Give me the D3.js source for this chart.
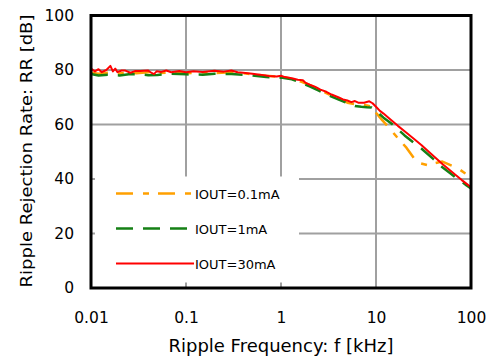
<!DOCTYPE html>
<html>
<head>
<meta charset="utf-8">
<script src="https://cdn.jsdelivr.net/npm/d3@7"></script>
<style>
  body { margin: 0; background: #fff; }
  svg { display: block; font-family: "DejaVu Sans", sans-serif; }
</style>
</head>
<body>
<div id="chart"></div>
<script>
// Datos (f en kHz, RR en dB)
const xTicks = [0.01, 0.1, 1, 10, 100];
const xTickLabels = ['0.01', '0.1', '1', '10', '100'];
const yTicks = [0, 20, 40, 60, 80, 100];

const freq01 = [0.01, 0.012, 0.015, 0.02, 0.025, 0.03, 0.04, 0.05, 0.07, 0.1, 0.15, 0.2, 0.3, 0.4, 0.5, 0.7, 1.0, 1.3, 1.6, 2.0, 2.5, 3.0, 4.0, 5.0, 6.0, 7.0, 8.0, 9.0, 10, 11.5, 13.4, 16.5, 21, 27, 35, 42, 50, 60, 73, 85, 100];
const rr01   = [79.0, 78.6, 79.0, 78.7, 79.1, 78.8, 79.2, 78.9, 79.0, 78.8, 79.1, 78.9, 79.2, 78.8, 78.4, 77.9, 77.5, 76.8, 75.8, 74.5, 73.0, 71.5, 69.5, 68.0, 67.5, 67.3, 67.0, 66.5, 64.3, 61.8, 59.2, 55.5, 51.4, 46.1, 45.1, 45.8, 46.4, 45.2, 43.9, 42.3, 40.2];

const freq1 = [0.01, 0.012, 0.015, 0.02, 0.025, 0.03, 0.04, 0.05, 0.07, 0.1, 0.15, 0.2, 0.3, 0.5, 0.7, 1.0, 1.3, 1.5, 2.0, 2.5, 3.0, 4.0, 5.0, 6.0, 7.0, 8.0, 9.0, 10, 12, 15, 20, 25, 30, 40, 50, 60, 70, 80, 90, 100];
const rr1   = [78.5, 78.0, 78.3, 78.0, 78.4, 78.5, 78.1, 78.2, 78.6, 78.4, 78.3, 78.6, 78.5, 78.0, 77.4, 77.2, 76.6, 75.8, 74.0, 72.4, 71.0, 69.2, 67.8, 66.8, 66.5, 66.3, 66.2, 65.0, 62.5, 60.0, 56.0, 53.3, 51.2, 47.4, 44.3, 42.2, 40.4, 39.0, 37.6, 36.5];

const freq30 = [0.01, 0.011, 0.012, 0.013, 0.0145, 0.016, 0.017, 0.018, 0.019, 0.021, 0.023, 0.026, 0.029, 0.033, 0.04, 0.043, 0.046, 0.049, 0.055, 0.062, 0.07, 0.085, 0.1, 0.12, 0.15, 0.2, 0.25, 0.3, 0.35, 0.4, 0.5, 0.6, 0.75, 0.9, 1.0, 1.1, 1.3, 1.5, 1.7, 1.8, 2.0, 2.3, 2.6, 3.0, 3.4, 4.0, 4.5, 5.0, 5.5, 6.0, 6.5, 7.5, 8.5, 9.2, 10, 11, 12, 14, 17, 20, 25, 30, 40, 50, 60, 70, 80, 90, 100];
const rr30   = [80.5, 79.5, 80.3, 79.2, 80.0, 81.5, 79.5, 80.5, 79.2, 79.8, 79.8, 79.0, 79.6, 79.6, 79.8, 79.0, 78.5, 79.5, 79.3, 79.8, 79.2, 79.6, 79.2, 79.5, 79.3, 79.7, 79.4, 79.8, 79.2, 79.0, 78.6, 78.3, 77.8, 77.6, 77.9, 77.4, 77.0, 76.4, 76.2, 75.4, 74.6, 73.8, 72.8, 72.0, 71.0, 70.0, 69.2, 68.8, 68.2, 68.6, 68.0, 68.0, 68.5, 67.8, 66.5, 65.0, 64.0, 62.0, 59.5, 57.5, 54.8, 52.5, 48.5, 45.5, 43.2, 41.3, 39.6, 38.2, 37.0];

const seriesNames = ['IOUT=0.1mA', 'IOUT=1mA', 'IOUT=30mA'];
const seriesFreq = [freq01, freq1, freq30];
const seriesRR = [rr01, rr1, rr30];

// Estilos
const COLORS = ['#FFA000', '#158015', '#FF0000'];
const DASHES = ['17,10,6,9', '17,10', null];
const WIDTHS = [2.5, 2.5, 2];

const W = 493, H = 363;
const margin = {top: 15.5, right: 22, bottom: 75, left: 91};
const width = W - margin.left - margin.right,
      height = H - margin.top - margin.bottom;

const svg = d3.select('#chart').append('svg')
    .attr('width', W)
    .attr('height', H);

const g = svg.append('g')
    .attr('transform', 'translate(' + margin.left + ',' + margin.top + ')');

const x = d3.scaleLog().domain([0.01, 100]).range([0, width]);
const y = d3.scaleLinear().domain([0, 100]).range([height, 0]);

// Rejilla
g.append('g').selectAll('line')
    .data(xTicks.slice(1, -1))
    .enter().append('line')
    .attr('x1', d => x(d)).attr('x2', d => x(d))
    .attr('y1', 0).attr('y2', height)
    .attr('stroke', '#a0a0a0').attr('stroke-width', 2);

g.append('g').selectAll('line')
    .data(yTicks.slice(1, -1))
    .enter().append('line')
    .attr('x1', 0).attr('x2', width)
    .attr('y1', d => y(d)).attr('y2', d => y(d))
    .attr('stroke', '#a0a0a0').attr('stroke-width', 2);

// Series
const line = d3.line()
    .x(d => x(d[0]))
    .y(d => y(d[1]));

seriesNames.forEach(function(name, i) {
    const pts = seriesFreq[i].map((f, j) => [f, seriesRR[i][j]]);
    g.append('path')
        .datum(pts)
        .attr('fill', 'none')
        .attr('stroke', COLORS[i])
        .attr('stroke-width', WIDTHS[i])
        .attr('stroke-dasharray', DASHES[i])
        .attr('stroke-linejoin', 'round')
        .attr('d', line);
});

// Leyenda (caja blanca sobre la rejilla)
const leg = g.append('g');
leg.append('rect')
    .attr('x', 4).attr('y', 161)
    .attr('width', 204).attr('height', 106)
    .attr('fill', '#fff');

seriesNames.forEach(function(name, i) {
    const ly = 178 + i * 35;
    leg.append('line')
        .attr('x1', 25).attr('x2', 103)
        .attr('y1', ly).attr('y2', ly)
        .attr('stroke', COLORS[i])
        .attr('stroke-width', WIDTHS[i])
        .attr('stroke-dasharray', DASHES[i]);
    leg.append('text')
        .attr('x', 104).attr('y', ly + 5)
        .attr('font-size', 13)
        .attr('fill', '#000')
        .text(name);
});

// Marco
g.append('rect')
    .attr('x', 0).attr('y', 0)
    .attr('width', width).attr('height', height)
    .attr('fill', 'none')
    .attr('stroke', '#000')
    .attr('stroke-width', 3);

// Ejes
const xAxis = g.append('g')
    .attr('transform', 'translate(0,' + height + ')')
    .call(d3.axisBottom(x).tickValues(xTicks).tickFormat((d, i) => xTickLabels[i]).tickSize(0).tickPadding(24));
xAxis.select('.domain').remove();
xAxis.selectAll('text').attr('font-size', 15.5).attr('fill', '#000').attr('font-family', '"DejaVu Sans", sans-serif');

const yAxis = g.append('g')
    .call(d3.axisLeft(y).tickValues(yTicks).tickSize(0).tickPadding(17));
yAxis.select('.domain').remove();
yAxis.selectAll('text').attr('font-size', 15.5).attr('fill', '#000').attr('font-family', '"DejaVu Sans", sans-serif');

// Títulos
svg.append('text')
    .attr('x', 281)
    .attr('y', 352)
    .attr('text-anchor', 'middle')
    .attr('font-size', 17)
    .attr('textLength', 225)
    .attr('lengthAdjust', 'spacingAndGlyphs')
    .text('Ripple Frequency: f [kHz]');

svg.append('text')
    .attr('transform', 'translate(32,' + 151 + ') rotate(-90)')
    .attr('text-anchor', 'middle')
    .attr('font-size', 16.5)
    .attr('textLength', 273)
    .attr('lengthAdjust', 'spacingAndGlyphs')
    .text('Ripple Rejection Rate: RR [dB]');
</script>
</body>
</html>
